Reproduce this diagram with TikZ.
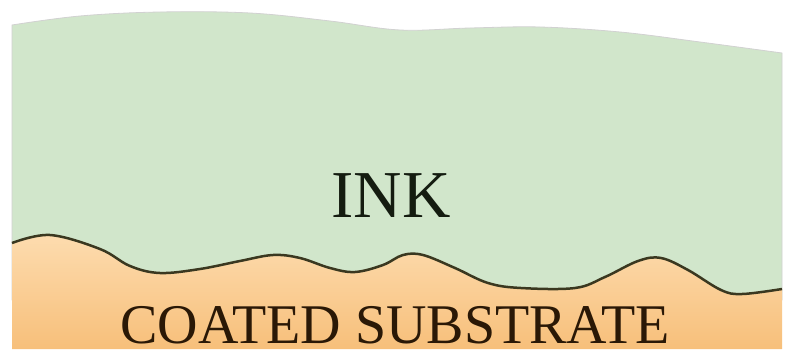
\documentclass[tikz,border=0pt]{standalone}
\usepackage{fontspec}
\setmainfont{Liberation Serif}
\definecolor{inkgreen}{HTML}{D1E6CB}
\definecolor{subtop}{HTML}{FDDCAF}
\definecolor{submid}{HTML}{FBD39F}
\definecolor{subbot}{HTML}{F7BF7A}
\definecolor{waveline}{HTML}{3A3820}
\definecolor{inktext}{HTML}{141C10}
\definecolor{subtext}{HTML}{2A1806}
\tikzset{
  label/.style={inner sep=0pt, font=\fontsize{67}{67}\selectfont, text=inktext},
  sublabel/.style={inner sep=0pt, text depth=0pt, font=\fontsize{56}{56}\selectfont, text=subtext},
  wave/.style={draw=waveline, line width=2.5pt, line join=round},
}
\begin{document}
\begin{tikzpicture}[x=1pt,y=-1pt]
\useasboundingbox (0,0) rectangle (788,349);
\fill[white] (0,0) rectangle (788,349);
% ink layer
\fill[inkgreen, draw=black!18, line width=0.8pt]
  plot[smooth, tension=0.6] coordinates {(12,25) (80,16) (160,12) (250,13) (330,21) (400,30) (470,28) (540,27) (620,32) (700,42) (782,53)}
  -- (782,300) -- (12,300) -- cycle;
% substrate
\shade[top color=subtop, middle color=submid, bottom color=subbot]
  plot[smooth, tension=0.6] coordinates {(12,243) (50,235) (100,249) (130,266) (160,273) (200,269) (240,261) (273,255) (300,258) (330,268) (355,272) (383,265) (403,255) (423,255) (455,268) (488,283) (521,288) (575,288) (605,277) (638,261) (661,258) (688,270) (721,290) (742,294) (782,289)}
  -- (782,349) -- (12,349) -- cycle;
\draw[wave]
  plot[smooth, tension=0.6] coordinates {(12,243) (50,235) (100,249) (130,266) (160,273) (200,269) (240,261) (273,255) (300,258) (330,268) (355,272) (383,265) (403,255) (423,255) (455,268) (488,283) (521,288) (575,288) (605,277) (638,261) (661,258) (688,270) (721,290) (742,294) (782,289)};
\node[label, anchor=base] (ink) at (391,217) {INK};
\node[sublabel, anchor=base] (sub) at (395,343) {COATED SUBSTRATE};
\end{tikzpicture}
\end{document}
